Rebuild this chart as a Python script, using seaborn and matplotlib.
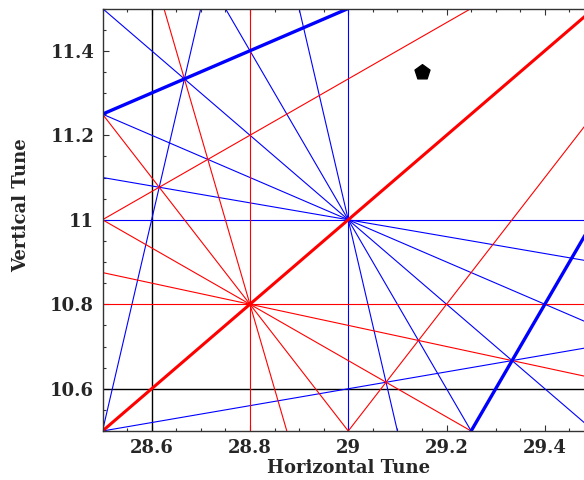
import numpy as np
import pandas as pd
import matplotlib
matplotlib.use("Agg")
import matplotlib.pyplot as plt
from matplotlib.ticker import MultipleLocator, FuncFormatter
import seaborn as sns

# Resonance lines  m*Qx + n*Qy = p
blue_m = [1, 0, 1, 1, 2, 1, 5, 5, 1]
blue_n = [0, 1, 1, 2, 1, 5, 1, -1, -5]
blue_p = [29, 11, 40, 51, 69, 84, 156, 132, -24]

blue_thick_m = [1, 2]
blue_thick_n = [-2, -1]
blue_thick_p = [6, 48]

red_m = [1, 0, 4, 3, 2, 1, 2, 3]
red_n = [0, 1, 1, 2, 3, 4, -3, -2]
red_p = [28.8, 10.8, 126, 108, 90, 72, 24, 66]

red_thick_m = [1]
red_thick_n = [-1]
red_thick_p = [18]

black_m = [1, 0]
black_n = [0, 1]
black_p = [28.6, 10.6]

point_qx = [29.15]
point_qy = [11.35]

x_range = (28.5, 29.5)
y_range = (10.5, 11.5)


def segments(ms, ns, ps):
    rows = []
    for i, (m, n, p) in enumerate(zip(ms, ns, ps)):
        if n == 0:
            xs = [p / m, p / m]
            ys = [y_range[0] - 1, y_range[1] + 1]
        else:
            xs = [x_range[0] - 1, x_range[1] + 1]
            ys = [(p - m * x) / n for x in xs]
        for k, (x, y) in enumerate(zip(xs, ys)):
            rows.append({"line": i, "order": k, "Qx": x, "Qy": y})
    return pd.DataFrame(rows)


sns.set_theme(style="ticks")
plt.rcParams["font.family"] = ["DejaVu Serif"]

fig = plt.figure(figsize=(5.84, 4.8), dpi=100)
ax = fig.add_axes([102.5 / 584, 49 / 480, 491.5 / 584, 422.5 / 480])


def draw(ms, ns, ps, color, lw):
    df = segments(ms, ns, ps)
    sns.lineplot(data=df, x="Qx", y="Qy", units="line", estimator=None,
                 sort=False, color=color, linewidth=lw, ax=ax, legend=False)


draw(black_m, black_n, black_p, "black", 1.0)
draw(blue_m, blue_n, blue_p, "#0000ff", 0.8)
draw(red_m, red_n, red_p, "#ff0000", 0.8)
draw(blue_thick_m, blue_thick_n, blue_thick_p, "#0000ff", 2.4)
draw(red_thick_m, red_thick_n, red_thick_p, "#ff0000", 2.2)

sns.scatterplot(x=point_qx, y=point_qy, marker="p", s=130, color="black",
                edgecolor="black", ax=ax, zorder=5)

ax.set_xlim(*x_range)
ax.set_ylim(*y_range)

fmt = FuncFormatter(lambda v, pos: "%g" % round(v, 3))
ax.xaxis.set_major_locator(MultipleLocator(0.2))
ax.yaxis.set_major_locator(MultipleLocator(0.2))
ax.xaxis.set_minor_locator(MultipleLocator(0.05))
ax.yaxis.set_minor_locator(MultipleLocator(0.05))
ax.xaxis.set_major_formatter(fmt)
ax.yaxis.set_major_formatter(fmt)
ax.tick_params(which="both", direction="in", top=True, right=True,
               color="#333333", width=0.8)
ax.tick_params(which="major", length=4, labelsize=13, pad=6)
ax.tick_params(which="minor", length=2.5)
for lab in ax.get_xticklabels() + ax.get_yticklabels():
    lab.set_fontweight("semibold")
for s in ax.spines.values():
    s.set_color("#333333")
    s.set_linewidth(1.0)

ax.set_xlabel("Horizontal Tune", fontsize=13, fontweight="bold")
ax.set_ylabel("Vertical Tune", fontsize=13, fontweight="bold")
ax.xaxis.set_label_coords(0.5, -0.066)
ax.yaxis.set_label_coords(-0.148, 0.535)

fig.savefig("out.png", dpi=100)
